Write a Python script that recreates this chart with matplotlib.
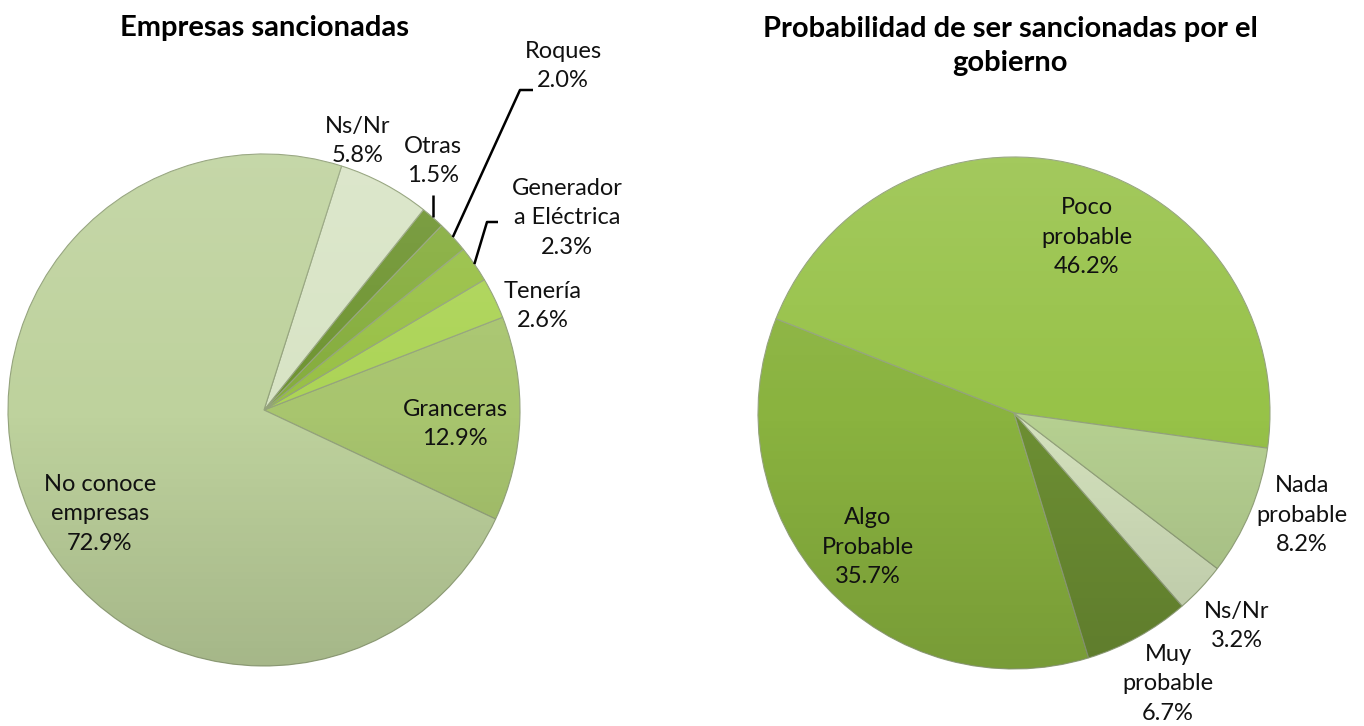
import numpy as np
import matplotlib
matplotlib.use("Agg")
import matplotlib.pyplot as plt
from matplotlib.patches import Circle

plt.rcParams['font.family'] = ['Lato', 'DejaVu Sans']

# Empresas sancionadas
left_labels = ["Granceras", "Tenería", "Generador\na Eléctrica", "Roques", "Otras", "Ns/Nr",
               "No conoce\nempresas"]
left_values = [12.9, 2.6, 2.3, 2.0, 1.5, 5.8, 72.9]
left_colors = ["#a8c56e", "#acd456", "#98c045", "#85ad3c", "#6e9430", "#d8e4c5", "#bed29d"]

# Probabilidad de ser sancionadas por el gobierno
right_labels = ["Poco\nprobable", "Algo\nProbable", "Muy\nprobable", "Ns/Nr", "Nada\nprobable"]
right_values = [46.2, 35.7, 6.7, 3.2, 8.2]
right_colors = ["#97c248", "#8ab33f", "#6d8f33", "#d4e2bd", "#b6d091"]

W, H = 1364, 726
fig = plt.figure(figsize=(W / 100, H / 100), dpi=100)
ax = fig.add_axes([0, 0, 1, 1])
ax.set_xlim(0, W)
ax.set_ylim(0, H)
ax.set_aspect('equal')
ax.axis('off')


def Y(y):
    return H - y


R = 256
left_c = (264, Y(410))
right_c = (1014, Y(413))


def draw_pie(values, colors, center, start):
    wedges, _ = ax.pie(values, colors=colors, startangle=start, counterclock=True,
                       radius=R, center=center, frame=False,
                       wedgeprops=dict(edgecolor="#94a37c", linewidth=0.8))
    # soft top-light / bottom-dark shading over the disc
    n = 256
    t = np.linspace(0, 1, n)[:, None]
    rgba = np.zeros((n, 2, 4))
    light = np.clip(0.5 - t, 0, None) * 2
    dark = np.clip(t - 0.5, 0, None) * 2
    rgba[..., :3] = np.where(t[..., None] < 0.5, 1.0, 0.0)
    rgba[..., 3] = (0.12 * light + 0.13 * dark)
    img = ax.imshow(rgba, extent=(center[0] - R, center[0] + R, center[1] - R, center[1] + R),
                    origin='upper', zorder=3, aspect='auto', interpolation='bilinear')
    img.set_clip_path(Circle(center, R, transform=ax.transData))
    ax.set_xlim(0, W)
    ax.set_ylim(0, H)
    return wedges


lw = draw_pie(left_values, left_colors, left_c, -25.2)
rw = draw_pie(right_values, right_colors, right_c, -7.9)

FS = 17
txt = dict(ha='center', va='center', fontsize=FS, color='#111111', linespacing=1.5, zorder=5)


def label(lbl, val, x, y):
    ax.text(x, Y(y), f"{lbl}\n{val:.1f}%", **txt)


# left pie labels
label(left_labels[0], left_values[0], 455, 424)
label(left_labels[1], left_values[1], 543, 306)
label(left_labels[2], left_values[2], 567, 218)
label(left_labels[3], left_values[3], 563, 66)
label(left_labels[4], left_values[4], 433, 161)
label(left_labels[5], left_values[5], 358, 141)
label(left_labels[6], left_values[6], 100, 514)

# right pie labels
label(right_labels[0], right_values[0], 1087, 237)
label(right_labels[1], right_values[1], 868, 547)
label(right_labels[2], right_values[2], 1168, 684)
label(right_labels[3], right_values[3], 1237, 626)
label(right_labels[4], right_values[4], 1302, 515)


# leader lines for the narrow slices
def edge_point(w, center):
    th = np.deg2rad((w.theta1 + w.theta2) / 2)
    return center[0] + R * np.cos(th), center[1] + R * np.sin(th)


lk = dict(color='black', lw=1.8, zorder=6, solid_capstyle='butt')
px, py = edge_point(lw[4], left_c)
ax.plot([px, px], [py, Y(195)], **lk)
px, py = edge_point(lw[3], left_c)
ax.plot([px, 520, 533], [py, Y(90), Y(90)], **lk)
px, py = edge_point(lw[2], left_c)
ax.plot([px, 487, 498], [py, Y(222), Y(222)], **lk)

ax.text(265, Y(28), "Empresas sancionadas", ha='center', va='center', fontsize=21,
        fontweight='bold', color='black')
ax.text(1010, Y(46), "Probabilidad de ser sancionadas por el\ngobierno", ha='center',
        va='center', fontsize=21, fontweight='bold', color='black', linespacing=1.35)

fig.savefig("out.png", dpi=100, facecolor='white')
